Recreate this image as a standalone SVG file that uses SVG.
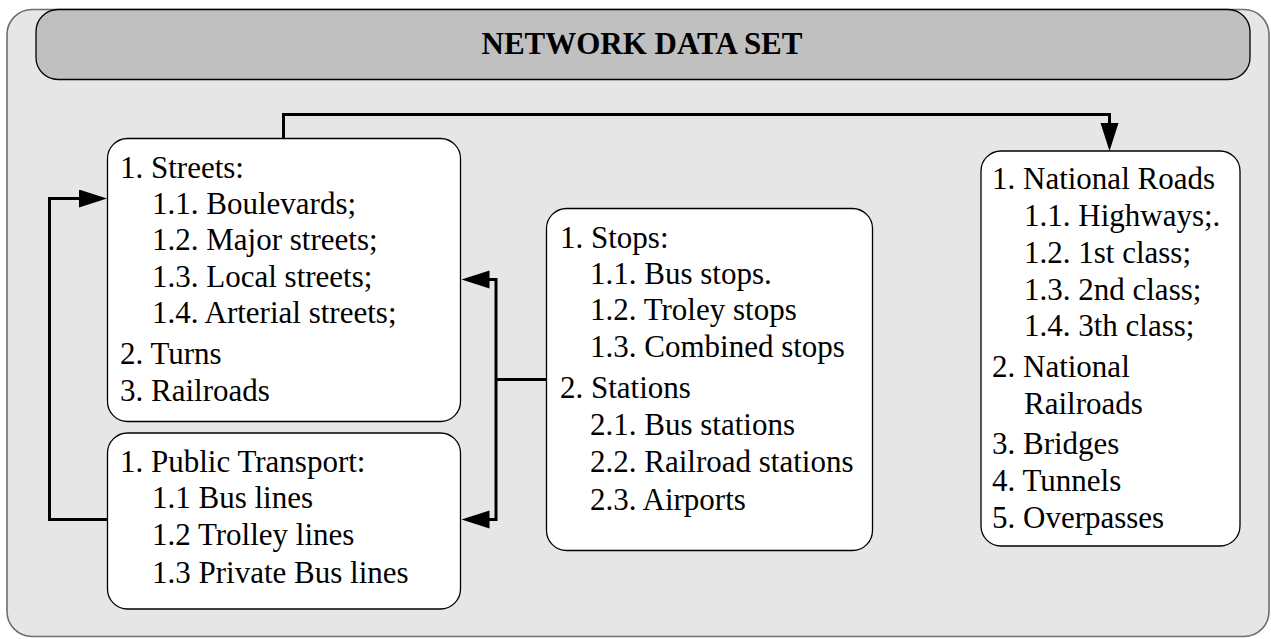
<svg xmlns="http://www.w3.org/2000/svg" width="1271" height="639" viewBox="0 0 1271 639">
<style>
  .box { fill: #ffffff; stroke: #000000; stroke-width: 1.3; }
  .t { font-family: "Liberation Serif", "Times New Roman", serif; font-size: 31px; fill: #000000; }
  .title { font-family: "Liberation Serif", "Times New Roman", serif; font-size: 31px; font-weight: bold; fill: #000000; }
  .conn { fill: none; stroke: #000000; stroke-width: 3; stroke-linejoin: miter; }
</style>
<defs>
  <marker id="arr" markerUnits="userSpaceOnUse" markerWidth="30" markerHeight="20" refX="8" refY="9" orient="auto-start-reverse">
    <path d="M0,0 L28,9 L0,18 z" fill="#000000"/>
  </marker>
</defs>
<g id="background">
  <rect x="7" y="9.5" width="1262" height="627" rx="25" ry="25" fill="#e6e6e6" stroke="#6e6e6e" stroke-width="1.6"/>
</g>
<g id="title">
  <rect x="36" y="9.5" width="1214" height="70" rx="22" ry="22" fill="#c0c0c0" stroke="#000000" stroke-width="1.3"/>
  <text class="title" x="642" y="54" text-anchor="middle">NETWORK DATA SET</text>
</g>
<g id="connectors">
  <path class="conn" d="M283.5 138.5 V114.5 H1109.5 V131" marker-end="url(#arr)"/>
  <path class="conn" d="M107.5 519.5 H49.5 V198.5 H87" marker-end="url(#arr)"/>
  <path class="conn" d="M481.5 279.5 H496 V519.5 H481.5" marker-start="url(#arr)" marker-end="url(#arr)"/>
  <path class="conn" d="M546.5 379.5 H496"/>
</g>
<g id="streets">
  <rect class="box" x="107.5" y="138.5" width="353" height="283" rx="20" ry="20"/>
  <text class="t" x="120" y="178">1. Streets:</text>
  <text class="t" x="152" y="214">1.1. Boulevards;</text>
  <text class="t" x="152" y="250">1.2. Major streets;</text>
  <text class="t" x="152" y="287">1.3. Local streets;</text>
  <text class="t" x="152" y="323">1.4. Arterial streets;</text>
  <text class="t" x="120" y="364">2. Turns</text>
  <text class="t" x="120" y="401">3. Railroads</text>
</g>
<g id="public-transport">
  <rect class="box" x="107.5" y="433" width="353" height="176" rx="20" ry="20"/>
  <text class="t" x="120" y="472">1. Public Transport:</text>
  <text class="t" x="152" y="508">1.1 Bus lines</text>
  <text class="t" x="152" y="545">1.2 Trolley lines</text>
  <text class="t" x="152" y="583">1.3 Private Bus lines</text>
</g>
<g id="stops">
  <rect class="box" x="546.5" y="208.5" width="326" height="342" rx="20" ry="20"/>
  <text class="t" x="560" y="248">1. Stops:</text>
  <text class="t" x="590" y="284">1.1. Bus stops.</text>
  <text class="t" x="590" y="320">1.2. Troley stops</text>
  <text class="t" x="590" y="357">1.3. Combined stops</text>
  <text class="t" x="560" y="398">2. Stations</text>
  <text class="t" x="590" y="435">2.1. Bus stations</text>
  <text class="t" x="590" y="472">2.2. Railroad stations</text>
  <text class="t" x="590" y="510">2.3. Airports</text>
</g>
<g id="national-roads">
  <rect class="box" x="981" y="151" width="259" height="395" rx="20" ry="20"/>
  <text class="t" x="992" y="189">1. National Roads</text>
  <text class="t" x="1024" y="226">1.1. Highways;.</text>
  <text class="t" x="1024" y="263">1.2. 1st class;</text>
  <text class="t" x="1024" y="300">1.3. 2nd class;</text>
  <text class="t" x="1024" y="336">1.4. 3th class;</text>
  <text class="t" x="992" y="377">2. National</text>
  <text class="t" x="1024" y="414">Railroads</text>
  <text class="t" x="992" y="454">3. Bridges</text>
  <text class="t" x="992" y="491">4. Tunnels</text>
  <text class="t" x="992" y="528">5. Overpasses</text>
</g>
</svg>
